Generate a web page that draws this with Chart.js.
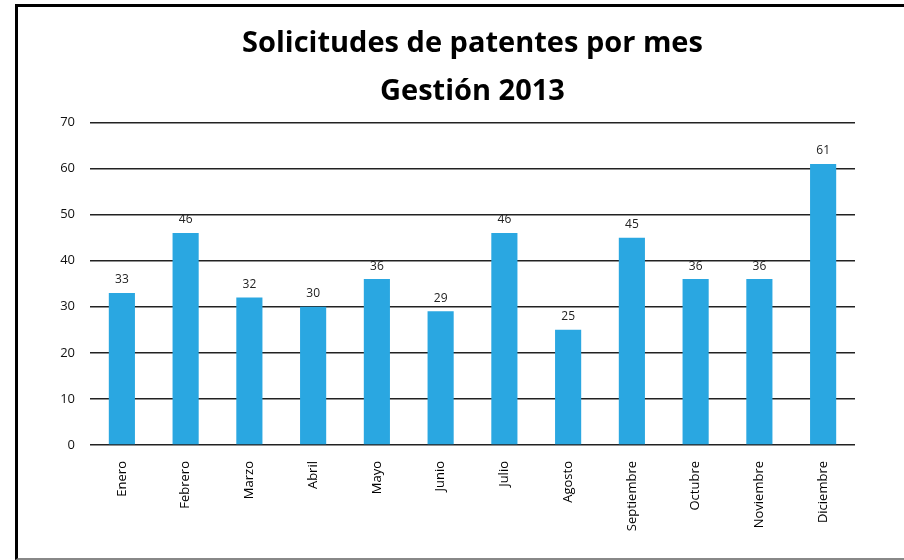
<!DOCTYPE html>
<html>
<head>
<meta charset="utf-8">
<script src="https://cdn.jsdelivr.net/npm/chart.js@4/dist/chart.umd.min.js"></script>
<style>
  html, body { margin: 0; padding: 0; background: #fff; }
  #wrap { position: relative; width: 904px; height: 560px; }
  #frame {
    position: absolute; left: 15px; top: 4px; right: -5px; bottom: 0;
    border-left: 3px solid #000; border-top: 3px solid #000; border-bottom: 2px solid #888;
    pointer-events: none;
  }
</style>
</head>
<body>
<div id="wrap">
  <canvas id="grafico" width="904" height="560"></canvas>
  <div id="frame"></div>
</div>
<script>
const meses = ["Enero", "Febrero", "Marzo", "Abril", "Mayo", "Junio", "Julio", "Agosto", "Septiembre", "Octubre", "Noviembre", "Diciembre"];
const solicitudes = [33, 46, 32, 30, 36, 29, 46, 25, 45, 36, 36, 61];
const titulo = ["Solicitudes de patentes por mes", "Gestión 2013"];
const ticksY = [0, 10, 20, 30, 40, 50, 60, 70];

const fuente = "'Open Sans', 'Noto Sans', sans-serif";

// Etiquetas de valor encima de cada barra
const etiquetasValor = {
  id: "etiquetasValor",
  afterDatasetsDraw(chart) {
    const ctx = chart.ctx;
    const meta = chart.getDatasetMeta(0);
    ctx.save();
    ctx.font = "12px " + fuente;
    ctx.fillStyle = "#222";
    ctx.textAlign = "center";
    ctx.textBaseline = "bottom";
    meta.data.forEach((bar, i) => {
      ctx.fillText(String(solicitudes[i]), bar.x, bar.y - 7);
    });
    ctx.restore();
  }
};

new Chart(document.getElementById("grafico"), {
  type: "bar",
  data: {
    labels: meses,
    datasets: [{
      data: solicitudes,
      backgroundColor: "#2aa7e1",
      borderWidth: 0,
      categoryPercentage: 1,
      barPercentage: 0.41
    }]
  },
  options: {
    responsive: false,
    animation: false,
    layout: { padding: { top: 16, left: 17, right: 49, bottom: 0 } },
    plugins: {
      legend: { display: false },
      tooltip: { enabled: false },
      title: {
        display: true,
        fullSize: false,
        text: titulo,
        color: "#000",
        font: { family: fuente, size: 29, weight: "bold", lineHeight: 1.68 },
        padding: { top: 3, bottom: 6 }
      }
    },
    scales: {
      x: {
        grid: { display: false },
        border: { display: false },
        ticks: {
          color: "#000",
          font: { family: fuente, size: 13 },
          minRotation: 90,
          maxRotation: 90,
          autoSkip: false,
          padding: 8
        },
        afterFit(scale) { scale.height = 115; }
      },
      y: {
        min: 0,
        max: 70,
        afterBuildTicks(scale) { scale.ticks = ticksY.map(v => ({ value: v })); },
        grid: { color: "#222", lineWidth: 1.5, drawTicks: false },
        border: { display: false },
        ticks: {
          color: "#111",
          font: { family: fuente, size: 13 },
          padding: 15
        },
        afterFit(scale) { scale.width = 73; }
      }
    }
  },
  plugins: [etiquetasValor]
});
</script>
</body>
</html>
